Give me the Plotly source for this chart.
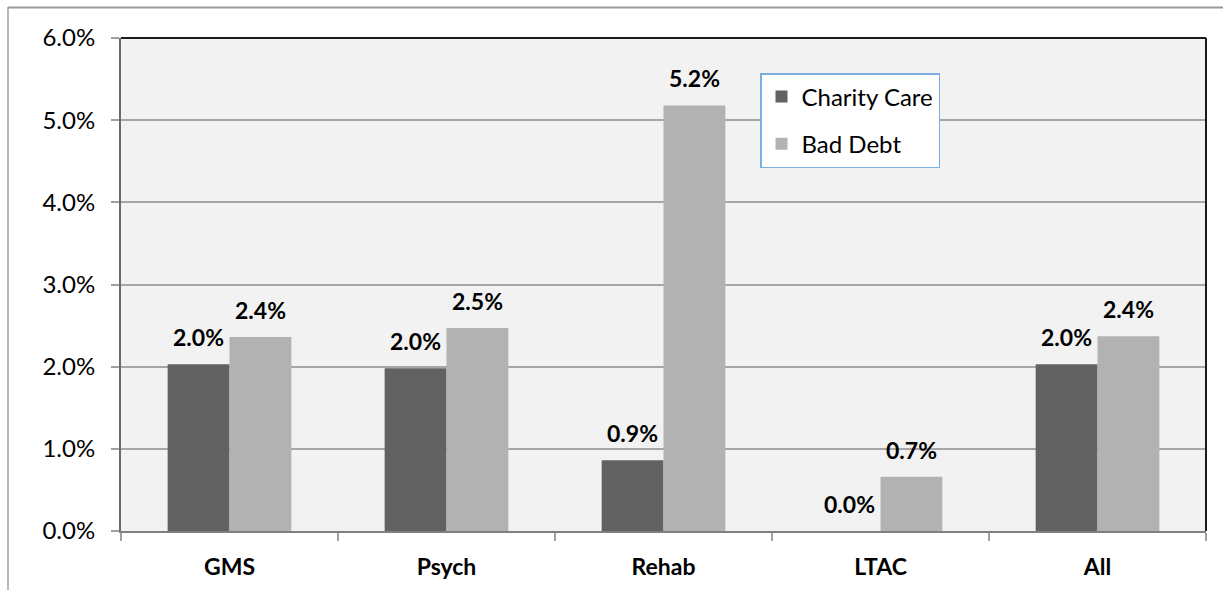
import plotly.graph_objects as go

categories = ["GMS", "Psych", "Rehab", "LTAC", "All"]
charity_care = [0.0203, 0.0198, 0.0086, 0.0, 0.0203]
bad_debt = [0.0236, 0.0247, 0.0518, 0.0066, 0.0237]
y_ticks = [0, 0.01, 0.02, 0.03, 0.04, 0.05, 0.06]

FONT = "Lato"
W, H = 1223, 590
L, T = 121, 38
PR, PB = 1206, 531  # plot right / bottom in figure pixels
R, B = W - PR, H - PB
pw, ph = PR - L, PB - T

fig = go.Figure()
fig.add_trace(go.Bar(x=categories, y=charity_care, name="Charity Care",
                     marker=dict(color="#626262", line=dict(width=0)), legendgroup="a"))
fig.add_trace(go.Bar(x=categories, y=bad_debt, name="Bad Debt",
                     marker=dict(color="#b2b2b2", line=dict(width=0)), legendgroup="b"))

annotations = []
for series, shift in ((charity_care, -31), (bad_debt, 31)):
    for c, v in zip(categories, series):
        annotations.append(dict(x=c, y=v, xref="x", yref="y", text=f"{v*100:.1f}%",
                                showarrow=False, xshift=shift, yshift=27, yanchor="middle",
                                font=dict(family=FONT, size=23, color="black", weight="bold")))

def px_x(p):
    return (p - L) / pw

def px_y(p):
    return (PB - p) / ph

shapes = [
    dict(type="line", xref="paper", yref="paper", x0=px_x(8), x1=px_x(1260), y0=px_y(7.5), y1=px_y(7.5),
         line=dict(color="#999999", width=2)),
    dict(type="line", xref="paper", yref="paper", x0=px_x(8), x1=px_x(8), y0=px_y(7), y1=px_y(620),
         line=dict(color="#a0a0a0", width=1.5)),
    dict(type="line", xref="paper", yref="paper", x0=0, x1=1, y0=1, y1=1,
         line=dict(color="#1a1a1a", width=2)),
    dict(type="line", xref="paper", yref="paper", x0=1, x1=1, y0=0, y1=1,
         line=dict(color="#1a1a1a", width=2)),
]

fig.update_layout(
    width=W, height=H,
    margin=dict(l=L, r=R, t=T, b=B, autoexpand=False),
    paper_bgcolor="white",
    plot_bgcolor="#f2f2f2",
    barmode="group",
    bargap=0.43,
    bargroupgap=0,
    font=dict(family=FONT, size=23, color="black"),
    showlegend=True,
    legend=dict(x=px_x(760), y=px_y(73), xanchor="left", yanchor="top",
                bgcolor="white", bordercolor="#7aaee0", borderwidth=1.5,
                font=dict(family=FONT, size=24, color="black"),
                tracegroupgap=13, itemwidth=30),
    annotations=annotations,
    shapes=shapes,
)
fig.update_yaxes(range=[0, 0.06], tickvals=y_ticks, tickformat=".1%",
                 showgrid=True, gridcolor="#a6a6a6", gridwidth=1.5,
                 showline=True, linecolor="#6b6b6b", linewidth=2,
                 ticks="outside", ticklen=8, tickcolor="#a0a0a0", tickwidth=1.5,
                 ticklabelstandoff=11, zeroline=False,
                 tickfont=dict(family=FONT, size=24, color="black"))
fig.update_xaxes(showline=True, linecolor="#808080", linewidth=2,
                 ticks="outside", ticklen=8, tickcolor="#a0a0a0", tickwidth=1.5,
                 tickson="boundaries", showgrid=False, ticklabelstandoff=14,
                 tickfont=dict(family=FONT, size=23, color="black", weight="bold"))

fig.write_html("out.html", config={"displayModeBar": False},
               post_script="document.body.style.margin='0px';document.body.style.overflow='hidden';")
